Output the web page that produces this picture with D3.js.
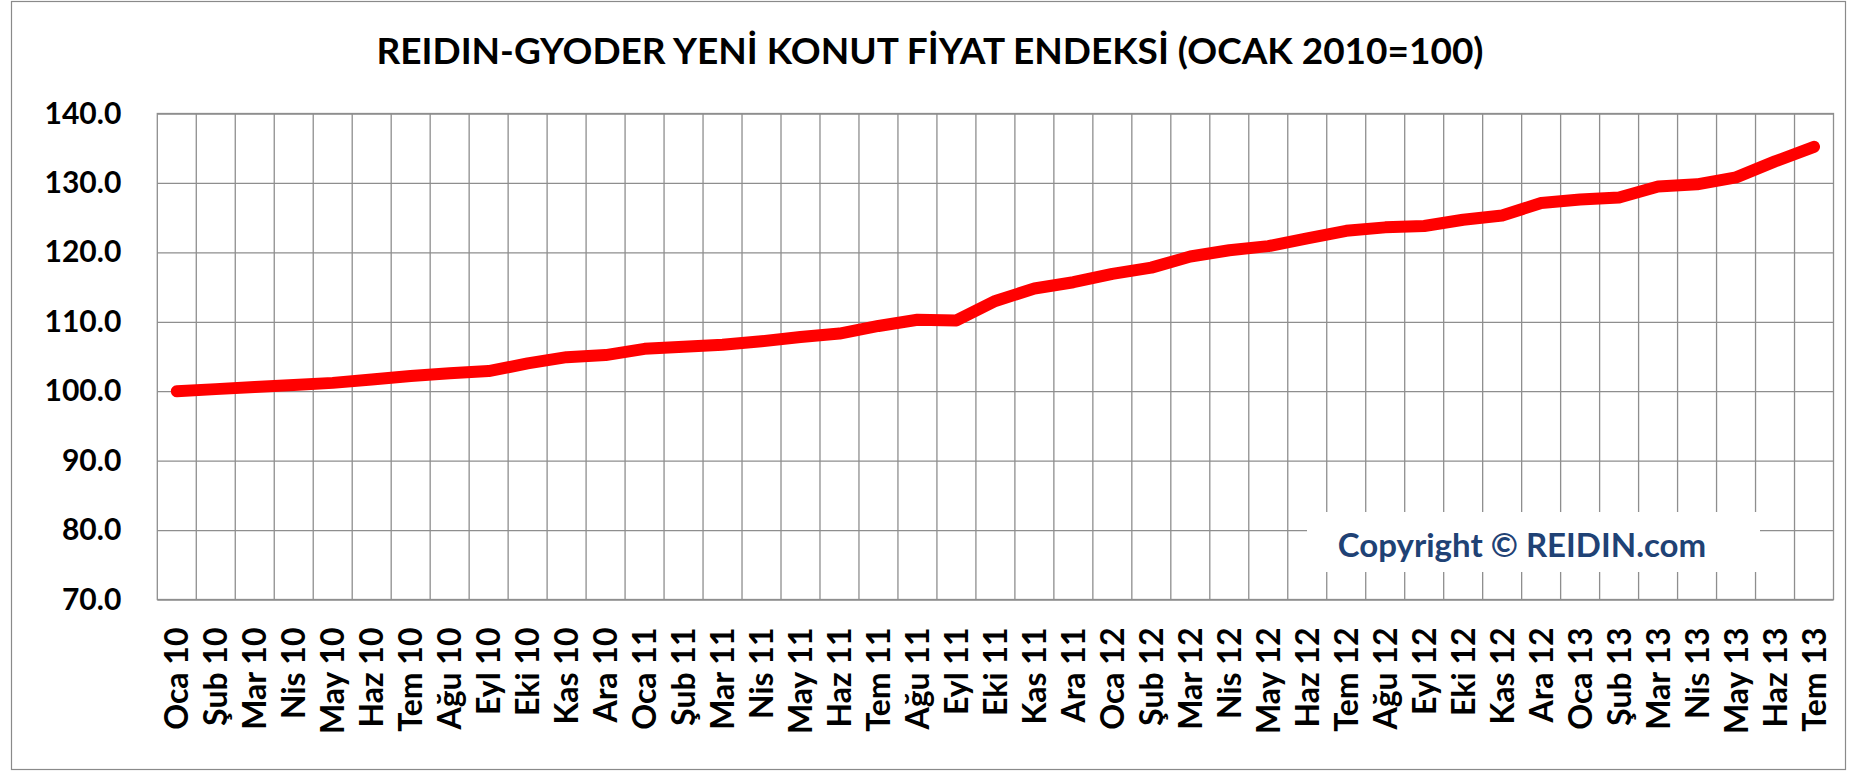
<!DOCTYPE html>
<html>
<head>
<meta charset="utf-8">
<script src="https://cdn.jsdelivr.net/npm/d3@7"></script>
<style>
  html, body { margin: 0; padding: 0; background: #fff; }
  svg text { font-family: Lato, "Open Sans", sans-serif; font-weight: 700; }
</style>
</head>
<body>
<div id="chart"></div>
<script>
// aylar (Ocak 2010 - Temmuz 2013)
const months = [
  'Oca 10', 'Şub 10', 'Mar 10', 'Nis 10', 'May 10', 'Haz 10', 'Tem 10', 'Ağu 10', 'Eyl 10', 'Eki 10', 'Kas 10', 'Ara 10',
  'Oca 11', 'Şub 11', 'Mar 11', 'Nis 11', 'May 11', 'Haz 11', 'Tem 11', 'Ağu 11', 'Eyl 11', 'Eki 11', 'Kas 11', 'Ara 11',
  'Oca 12', 'Şub 12', 'Mar 12', 'Nis 12', 'May 12', 'Haz 12', 'Tem 12', 'Ağu 12', 'Eyl 12', 'Eki 12', 'Kas 12', 'Ara 12',
  'Oca 13', 'Şub 13', 'Mar 13', 'Nis 13', 'May 13', 'Haz 13', 'Tem 13'
];

// endeks değerleri (Ocak 2010 = 100)
const indexValues = [
  100.0, 100.3, 100.6, 100.9, 101.2, 101.7, 102.2, 102.6, 102.9, 104.0, 104.9, 105.2,
  106.1, 106.4, 106.7, 107.2, 107.8, 108.3, 109.4, 110.3, 110.2, 113.0, 114.8, 115.7,
  116.9, 117.8, 119.4, 120.3, 120.9, 122.0, 123.1, 123.6, 123.8, 124.7, 125.3, 127.1,
  127.6, 127.9, 129.5, 129.8, 130.8, 133.1, 135.2
];

const yTicks = [70, 80, 90, 100, 110, 120, 130, 140];
const chartTitle = 'REIDIN-GYODER YENİ KONUT FİYAT ENDEKSİ (OCAK 2010=100)';
const copyrightText = 'Copyright © REIDIN.com';

const totalWidth = 1858, totalHeight = 773;
const margin = { top: 113.5, right: 24.5, bottom: 173.5, left: 157.3 };
const width = totalWidth - margin.left - margin.right;
const height = totalHeight - margin.top - margin.bottom;
const gridColor = '#8e8e8e';

const root = d3.select('#chart')
  .append('svg')
  .attr('width', totalWidth)
  .attr('height', totalHeight);

// chart area frame
root.append('rect')
  .attr('x', 11.5)
  .attr('y', 1.5)
  .attr('width', 1834)
  .attr('height', 768)
  .attr('fill', '#fff')
  .attr('stroke', '#8a8a8a')
  .attr('stroke-width', 1.2);

root.append('text')
  .attr('x', 930)
  .attr('y', 64)
  .attr('text-anchor', 'middle')
  .style('font-size', '37px')
  .style('fill', '#000')
  .text(chartTitle);

const svg = root.append('g')
  .attr('transform', `translate(${margin.left},${margin.top})`);

const x = d3.scaleBand()
  .domain(months)
  .range([0, width])
  .padding(0);

const y = d3.scaleLinear()
  .domain([70, 140])
  .range([height, 0]);

// horizontal gridlines + y labels
const yAxis = d3.axisLeft(y)
  .tickValues(yTicks)
  .tickSize(-width)
  .tickPadding(36)
  .tickFormat(d3.format('.1f'));

const yg = svg.append('g').call(yAxis);
yg.select('.domain').remove();
yg.selectAll('.tick line')
  .attr('stroke', gridColor)
  .attr('stroke-width', 1.3);
yg.selectAll('.tick text')
  .style('font-size', '30px')
  .style('fill', '#000');

// vertical gridlines at category boundaries
svg.append('g')
  .selectAll('line')
  .data(months.slice(1))
  .join('line')
  .attr('x1', d => x(d))
  .attr('x2', d => x(d))
  .attr('y1', 0)
  .attr('y2', height)
  .attr('stroke', gridColor)
  .attr('stroke-width', 1.3);

svg.append('rect')
  .attr('x', 0)
  .attr('y', 0)
  .attr('width', width)
  .attr('height', height)
  .attr('fill', 'none')
  .attr('stroke', gridColor)
  .attr('stroke-width', 1.3);

// x labels, rotated
const xAxis = d3.axisBottom(x)
  .tickSize(0)
  .tickPadding(0);

const xg = svg.append('g')
  .attr('transform', `translate(0,${height})`)
  .call(xAxis);
xg.select('.domain').remove();
xg.selectAll('.tick text')
  .attr('transform', 'rotate(-90)')
  .attr('x', -28)
  .attr('y', 0)
  .attr('dy', '0.36em')
  .attr('text-anchor', 'end')
  .style('font-size', '32px')
  .style('fill', '#000');

// copyright box
svg.append('rect')
  .attr('x', 1307 - margin.left)
  .attr('y', 512 - margin.top)
  .attr('width', 453)
  .attr('height', 60)
  .attr('fill', '#fff');

svg.append('text')
  .attr('x', 1522 - margin.left)
  .attr('y', 557 - margin.top)
  .attr('text-anchor', 'middle')
  .style('font-size', '33px')
  .style('fill', '#1f4275')
  .text(copyrightText);

// index line
const line = d3.line()
  .x((d, i) => x(months[i]) + x.bandwidth() / 2)
  .y(d => y(d));

svg.append('path')
  .datum(indexValues)
  .attr('d', line)
  .attr('fill', 'none')
  .attr('stroke', '#ff0000')
  .attr('stroke-width', 12)
  .attr('stroke-linecap', 'round')
  .attr('stroke-linejoin', 'round');
</script>
</body>
</html>
